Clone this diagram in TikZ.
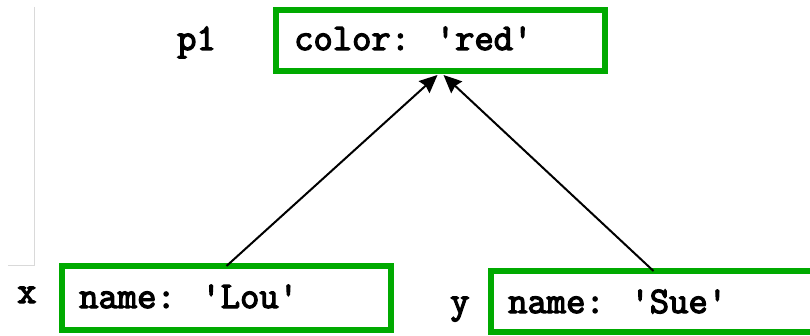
\documentclass[tikz,border=0pt]{standalone}
\usepackage{fontspec}
\newfontfamily\codefont[FakeBold=3.4]{Latin Modern Mono}
\usetikzlibrary{arrows.meta}
\definecolor{boxgreen}{RGB}{0,170,0}
\tikzset{
  objbox/.style={draw=boxgreen, line width=6pt, fill=white,
    minimum width=329pt, inner sep=0pt},
  code/.style={font=\fontsize{37.5}{38}\selectfont\codefont,
    anchor=base west, inner sep=0pt},
  reftip/.tip={Stealth[length=18pt,width=16pt,inset=2pt]},
  link/.style={line width=2pt, -reftip}
}
\begin{document}
\begin{tikzpicture}[x=1pt,y=-1pt]
\useasboundingbox (0,0) rectangle (810,336);
\clip (0,0) rectangle (810,336);
% faint guide lines on the left
\draw[black!15, line width=0.8pt] (34,7) -- (34,265) -- (8,265);
% object boxes
\node[objbox, minimum height=61pt] (p1box) at (440.5,40.5) {};
\node[objbox, minimum height=64pt] (lou) at (226.5,298) {};
\node[objbox, minimum height=61pt] (sue) at (655.5,301.5) {};
% contents
\node[code] (t1) at (294,50) {color: 'red'};
\node[code] (t2) at (79,308) {name: 'Lou'};
\node[code] (t3) at (508,313) {name: 'Sue'};
% variable names
\node[code] (lp1) at (177,50) {p1};
\node[code] (lx) at (17,303) {x};
\node[code] (ly) at (450,313) {y};
% references
\draw[link] ([yshift=-3pt]lou.north) -- ([xshift=-3pt,yshift=-1pt]p1box.south);
\draw[link] ([xshift=-2pt,yshift=-3pt]sue.north) -- ([xshift=3pt,yshift=-1pt]p1box.south);
\end{tikzpicture}
\end{document}
